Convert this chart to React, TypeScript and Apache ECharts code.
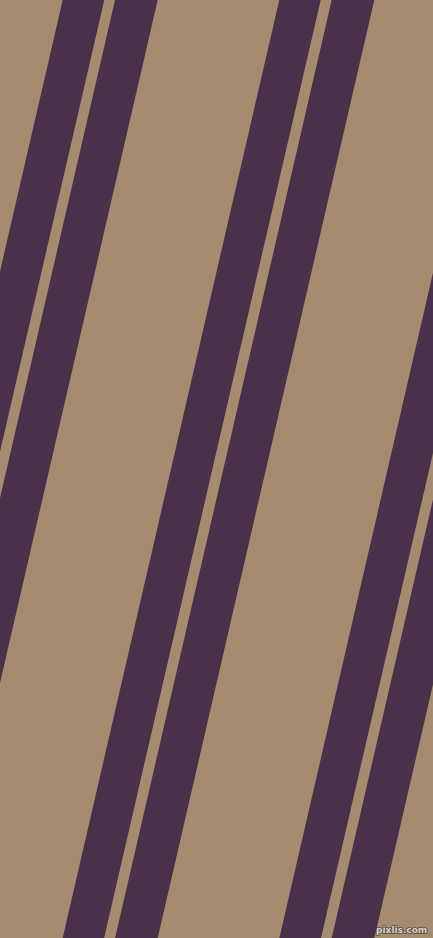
import React, { useEffect, useRef } from 'react';
import * as echarts from 'echarts';

// horizontal extent of the picture and its height (axis units = pixels)
const spanX = [0, 433];
const spanY = [0, 938];

// left edge of each dark band where it meets the top edge
const bandLeft = [62.7, 115, 279.3, 331.7, 496, 548.3];
// horizontal width of each band
const bandWidth = [41.6, 42.7, 41.4, 42.6, 41.6, 42.7];
// how far a band drifts to the left between top and bottom
const bandDrift = 216.6;

const sandColor = '#a58b6f';
const plumColor = '#4a3048';

export default function App() {
    const chartRef = useRef<HTMLDivElement>(null);

    useEffect(() => {
        if (chartRef.current === null) return;
        const chart = echarts.init(chartRef.current, undefined, { renderer: 'svg' });

        const data = bandLeft.map((x, i) => [x, bandWidth[i]]);

        chart.setOption({
            animation: false,
            backgroundColor: sandColor,
            grid: { left: 0, right: 0, top: 0, bottom: 0 },
            xAxis: { type: 'value', min: spanX[0], max: spanX[1], show: false },
            yAxis: { type: 'value', min: spanY[0], max: spanY[1], inverse: true, show: false },
            series: [
                {
                    type: 'custom',
                    clip: true,
                    data,
                    renderItem: (params: any, api: any) => {
                        const left = api.value(0);
                        const w = api.value(1);
                        const top = spanY[0];
                        const bottom = spanY[1];
                        const pts = [
                            api.coord([left, top]),
                            api.coord([left + w, top]),
                            api.coord([left + w - bandDrift, bottom]),
                            api.coord([left - bandDrift, bottom]),
                        ];
                        return {
                            type: 'polygon',
                            shape: { points: pts },
                            style: { fill: plumColor },
                        };
                    },
                },
            ],
            graphic: [
                {
                    type: 'text',
                    right: 5,
                    bottom: 3,
                    style: {
                        text: 'pixlis.com',
                        fontFamily: 'DejaVu Sans',
                        fontSize: 9,
                        fontWeight: 'bold',
                        fill: '#d8d2cc',
                        stroke: '#5a4a40',
                        lineWidth: 1.5,
                    },
                },
            ],
        });

        return () => {
            chart.dispose();
        };
    }, []);

    return (
        <div
            ref={chartRef}
            style={{ position: 'fixed', left: 0, top: 0, width: 433, height: 938 }}
        />
    );
}
